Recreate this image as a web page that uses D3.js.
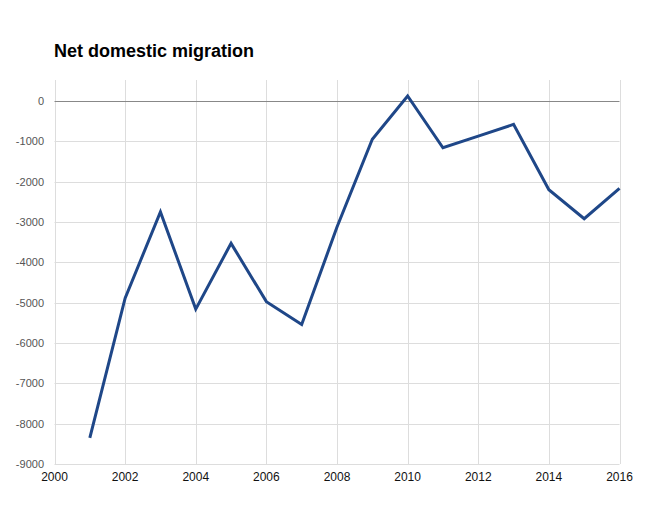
<!DOCTYPE html>
<html><head><meta charset="utf-8">
<script src="https://cdn.jsdelivr.net/npm/d3@7"></script>
<style>body{margin:0;background:#fff;} svg{display:block;font-family:"Liberation Sans",Arial,sans-serif;}</style>
</head><body>
<svg id="c" width="664" height="516"></svg>
<script>
const years = [2001,2002,2003,2004,2005,2006,2007,2008,2009,2010,2011,2012,2013,2014,2015,2016];
const migration = [-8350,-4890,-2750,-5160,-3530,-4975,-5540,-3125,-950,125,-1160,-870,-580,-2200,-2920,-2165];
const yTicks = [0,-1000,-2000,-3000,-4000,-5000,-6000,-7000,-8000,-9000];
const xTicks = [2000,2002,2004,2006,2008,2010,2012,2014,2016];
const title = "Net domestic migration";

const svg = d3.select("#c");
const x = d3.scaleLinear().domain([2000,2016]).range([54.5,619.5]);
const y = d3.scaleLinear().domain([-9000,520]).range([464,80]);

svg.append("text").attr("x",54).attr("y",57).attr("font-size",18).attr("font-weight","bold").attr("fill","#000").text(title);

const g = svg.append("g");
g.selectAll(".hg").data(yTicks.filter(d=>d!==0)).enter().append("line")
  .attr("x1",x(2000)).attr("x2",x(2016)).attr("y1",d=>Math.round(y(d))+0.5).attr("y2",d=>Math.round(y(d))+0.5)
  .attr("stroke","#dddddd").attr("stroke-width",1);
g.selectAll(".vg").data(xTicks).enter().append("line")
  .attr("x1",d=>Math.round(x(d))+0.5).attr("x2",d=>Math.round(x(d))+0.5).attr("y1",y(520)).attr("y2",y(-9000))
  .attr("stroke","#dddddd").attr("stroke-width",1);
g.append("line").attr("x1",x(2000)).attr("x2",x(2016)).attr("y1",Math.round(y(0))+0.5).attr("y2",Math.round(y(0))+0.5)
  .attr("stroke","#888888").attr("stroke-width",1);

g.selectAll(".yl").data(yTicks).enter().append("text")
  .attr("x",44).attr("y",d=>y(d)+4).attr("text-anchor","end").attr("font-size",11).attr("fill","#555")
  .text(d=>d);
g.selectAll(".xl").data(xTicks).enter().append("text")
  .attr("x",d=>x(d)).attr("y",481).attr("text-anchor","middle").attr("font-size",12).attr("fill","#111")
  .text(d=>d);

const line = d3.line().x((d,i)=>x(years[i])).y(d=>y(d));
g.append("path").datum(migration).attr("d",line).attr("fill","none")
  .attr("stroke","#1f4788").attr("stroke-width",3).attr("stroke-linejoin","miter");
</script>
</body></html>
